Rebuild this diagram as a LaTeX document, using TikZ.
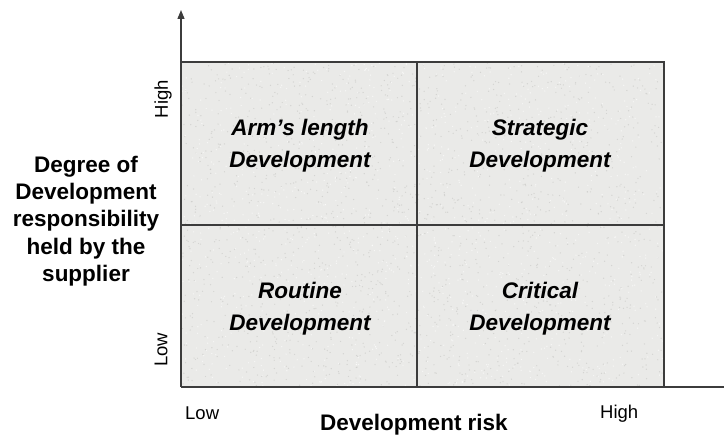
\documentclass[tikz,border=0pt]{standalone}
\usepackage{fontspec}
\setmainfont{Liberation Sans}
\usetikzlibrary{arrows.meta}
\definecolor{axisgray}{RGB}{60,60,60}
\definecolor{cellfill}{RGB}{234,234,232}
\definecolor{speckdark}{RGB}{195,195,192}
\tikzset{
  quadtext/.style={font=\fontsize{22.5}{27}\selectfont\bfseries\itshape, anchor=base, inner sep=0pt},
  sidetext/.style={font=\fontsize{22.5}{27}\selectfont\bfseries, anchor=base, inner sep=0pt},
  ticktext/.style={font=\fontsize{18.5}{22}\selectfont, inner sep=0pt},
  gridline/.style={draw=axisgray, line width=1.3pt},
}
\begin{document}
\begin{tikzpicture}[x=1pt,y=-1pt]
\useasboundingbox (0,0) rectangle (724,435);
% cells
\fill[cellfill] (181,62) rectangle (664,387);
\pgfmathsetseed{7}
\foreach \i in {1,...,1800}{
  \pgfmathsetmacro\px{182+481*rnd}
  \pgfmathsetmacro\py{63+323*rnd}
  \fill[speckdark, opacity=0.55] (\px,\py) circle (0.7);
}
\foreach \i in {1,...,1200}{
  \pgfmathsetmacro\px{182+481*rnd}
  \pgfmathsetmacro\py{63+323*rnd}
  \fill[white, opacity=0.6] (\px,\py) circle (0.7);
}
% corner coordinates
\coordinate (tl) at (181,62);
\coordinate (tm) at (417,62);
\coordinate (tr) at (664,62);
\coordinate (ml) at (181,225);
\coordinate (mr) at (664,225);
\coordinate (bl) at (181,387);
\coordinate (bm) at (417,387);
\coordinate (br) at (664,387);
\coordinate (xend) at (724,387);
\coordinate (ytip) at (181,10);
% grid
\draw[gridline] (tl) -- (tr) -- (br);
\draw[gridline] (tm) -- (bm);
\draw[gridline] (ml) -- (mr);
% axes
\draw[gridline] (bl) -- (xend);
\draw[gridline, -{Triangle[length=9pt,width=7pt]}] (bl) -- (ytip);
% quadrant texts
\node[quadtext] (a1) at (300,136) {Arm’s length};
\node[quadtext] (a2) at (300,168) {Development};
\node[quadtext] (s1) at (540,136) {Strategic};
\node[quadtext] (s2) at (540,168) {Development};
\node[quadtext] (r1) at (300,299) {Routine};
\node[quadtext] (r2) at (300,331) {Development};
\node[quadtext] (c1) at (540,299) {Critical};
\node[quadtext] (c2) at (540,331) {Development};
% y-axis label
\node[sidetext] (y1) at (86,173) {Degree of};
\node[sidetext] (y2) at (86,200) {Development};
\node[sidetext] (y3) at (86,227) {responsibility};
\node[sidetext] (y4) at (86,255) {held by the};
\node[sidetext] (y5) at (86,282) {supplier};
% ticks
\node[ticktext, rotate=90] (yhigh) at (163,99) {High};
\node[ticktext, rotate=90] (ylow) at (161,350) {Low};
\node[ticktext, anchor=base west] (xlow) at (185,420) {Low};
\node[ticktext, anchor=base west] (xhigh) at (600,419) {High};
% x-axis label
\node[sidetext] (xlab) at (414,431) {Development risk};
\end{tikzpicture}
\end{document}
